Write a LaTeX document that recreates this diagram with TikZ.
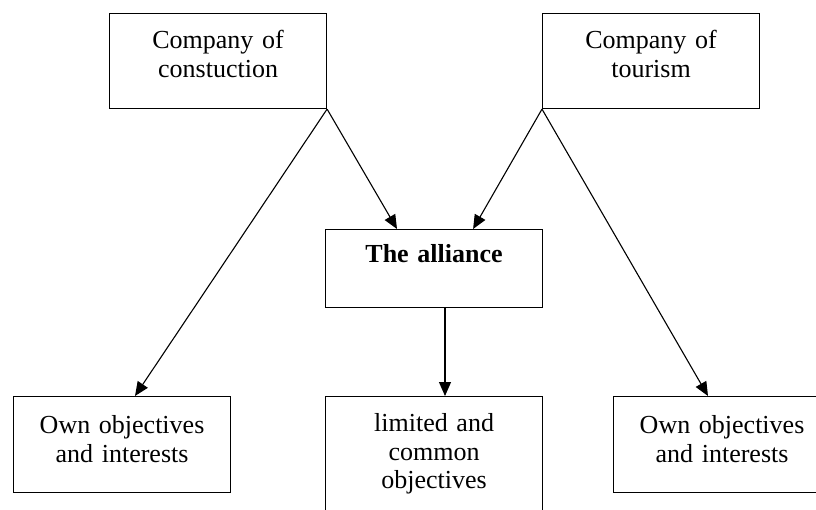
\documentclass[tikz,border=0pt]{standalone}
\usepackage{fontspec}
\setmainfont{Liberation Serif}
\usetikzlibrary{arrows.meta}

\tikzset{
  box/.style={draw, line width=1.1pt, inner sep=0pt, anchor=north west,
    text width=217pt, align=center, text height=35pt,
    font=\fontsize{26pt}{28.5pt}\selectfont},
  link/.style={line width=1.1pt, -{Triangle[length=14pt,width=12pt]}}
}

\begin{document}
\begin{tikzpicture}[x=1pt, y=-1pt]

  \useasboundingbox (0,0) rectangle (816,510);
  \clip (0,0) rectangle (816,510);

  \node[box, text depth=60pt] (cons) at (109,13) {Company of\\constuction};
  \node[box, text depth=60pt] (tour) at (542,13) {Company of\\tourism};
  \node[box, text height=33pt, text depth=45pt] (alliance) at (325,229) {\textbf{The alliance}};

  \node[box, text height=37pt, text depth=59pt] (ownl) at (13,396) {Own objectives\\and interests};
  \node[box, text depth=100pt] (common) at (325,396) {limited and\\common\\objectives};
  \node[box, text height=37pt, text depth=59pt] (ownr) at (613,396) {Own objectives\\and interests};

 \draw[link] (cons.south east)--([xshift=72pt]alliance.north west);
 \draw[link] (cons.south east)--([xshift=122pt]ownl.north west);
 \draw[link] (tour.south west)--([xshift=-70pt]alliance.north east);
 \draw[link] (tour.south west)--([xshift=95pt]ownr.north west);
 \draw[link] ([xshift=120pt]alliance.south west)--([xshift=120pt]common.north west);

\end{tikzpicture}
\end{document}
